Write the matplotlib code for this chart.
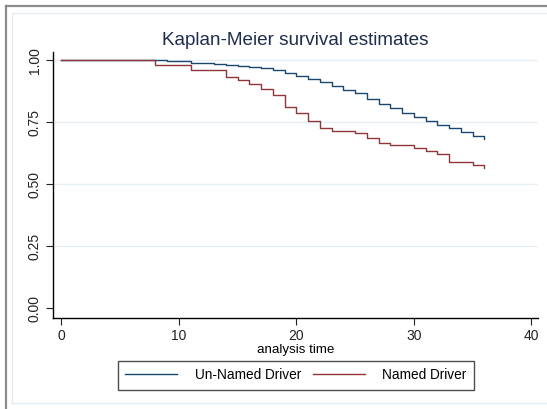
import numpy as np
import matplotlib
matplotlib.use("Agg")
import matplotlib.pyplot as plt
from matplotlib.lines import Line2D

plt.rcParams['font.family'] = ['Liberation Sans', 'DejaVu Sans']

# survival estimates (step drops at these times)
t_unnamed = [0, 9, 11, 13, 14, 15, 16, 17, 18, 19, 20, 21, 22, 23, 24, 25, 26, 27,
             28, 29, 30, 31, 32, 33, 34, 35, 36]
s_unnamed = [1.0, 0.997, 0.99, 0.985, 0.981, 0.977, 0.972, 0.968, 0.961, 0.95, 0.938,
             0.925, 0.911, 0.898, 0.88, 0.867, 0.845, 0.823, 0.806, 0.789, 0.773,
             0.756, 0.74, 0.726, 0.712, 0.695, 0.681]

t_named = [0, 8, 11, 14, 15, 16, 17, 18, 19, 20, 21, 22, 23, 25, 26, 27, 28, 30, 31,
           32, 33, 35, 36]
s_named = [1.0, 0.982, 0.96, 0.934, 0.92, 0.903, 0.884, 0.86, 0.813, 0.786, 0.756,
           0.726, 0.716, 0.708, 0.685, 0.668, 0.659, 0.646, 0.636, 0.622, 0.588,
           0.579, 0.566]

labels = ['Un-Named Driver', 'Named Driver']
colors = ['#1a476f', '#90353b']
xticks = [0, 10, 20, 30, 40]
yticks = [0.0, 0.25, 0.5, 0.75, 1.0]

fig = plt.figure(figsize=(5.47, 4.09), dpi=100)
ax = fig.add_axes([0.0963, 0.222, 0.888, 0.652])

for y in yticks[1:]:
    ax.axhline(y, color='#e4eef3', lw=1.0, zorder=0)

ax.step(t_unnamed, s_unnamed, where='post', color=colors[0], lw=1.0, label=labels[0])
ax.step(t_named, s_named, where='post', color=colors[1], lw=1.0, label=labels[1])

ax.set_xlim(-0.74, 40.6)
ax.set_ylim(-0.04, 1.035)
ax.set_xticks(xticks)
ax.set_yticks(yticks)
ax.set_yticklabels(['%.2f' % v for v in yticks], rotation=90, va='center')
ax.tick_params(axis='both', direction='out', length=5, width=0.8,
               labelsize=10, colors='#222222', pad=3)
for s in ['top', 'right']:
    ax.spines[s].set_visible(False)
for s in ['left', 'bottom']:
    ax.spines[s].set_linewidth(1.0)
ax.set_xlabel('analysis time', fontsize=9.6, labelpad=0.5)
ax.set_title('Kaplan-Meier survival estimates', fontsize=13.6, color='#1f2d4d', pad=5)

leg = fig.legend(loc='center', bbox_to_anchor=(0.541, 0.0825), ncol=2, fontsize=9.8,
                 handlelength=3.8, columnspacing=0.9, handletextpad=1.3,
                 frameon=True, fancybox=False, borderpad=0.55)
leg.get_frame().set_edgecolor('#222222')
leg.get_frame().set_linewidth(1.0)

# screenshot frame and light graph-region border
W, H = 547.0, 409.0
fig.add_artist(Line2D([6 / W, 6 / W], [0, 1 - 6 / H], transform=fig.transFigure,
                      color='#8c8c8c', lw=1.6))
fig.add_artist(Line2D([6 / W, 1], [1 - 6 / H, 1 - 6 / H], transform=fig.transFigure,
                      color='#8c8c8c', lw=1.6))
fig.add_artist(Line2D([12 / W, 12 / W, 1], [6 / H, 1 - 13 / H, 1 - 13 / H],
                      transform=fig.transFigure, color='#e3edf1', lw=1.0))
fig.add_artist(Line2D([12 / W, 1], [6 / H, 6 / H], transform=fig.transFigure,
                      color='#e3edf1', lw=1.0))

fig.savefig('out.png', dpi=100)
